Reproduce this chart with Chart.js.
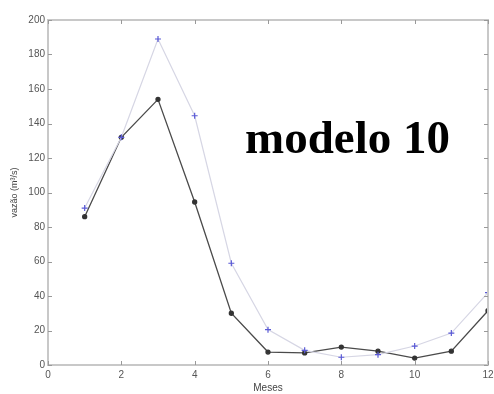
<!DOCTYPE html>
<html>
<head>
<meta charset="utf-8">
<script src="https://cdn.jsdelivr.net/npm/chart.js@4/dist/chart.umd.min.js"></script>
<style>
  html, body { margin: 0; padding: 0; background: #fff; }
  #wrap { width: 494px; height: 394px; }
</style>
</head>
<body>
<div id="wrap"><canvas id="chart" width="494" height="394"></canvas></div>
<script>
// Datos (meses 1..12, vazão em m³/s)
const MESES = [1, 2, 3, 4, 5, 6, 7, 8, 9, 10, 11, 12];
const SERIE_PRETA = [86, 132, 154, 94.5, 30, 7.5, 7, 10.4, 8, 4, 8, 31.5];
const SERIE_AZUL = [91, 132, 189, 144.5, 59, 20.5, 8.5, 4.5, 6, 11, 18.5, 42];
const X_TICKS = [0, 2, 4, 6, 8, 10, 12];
const Y_TICKS = [0, 20, 40, 60, 80, 100, 120, 140, 160, 180, 200];

const toPoints = (ys) => MESES.map((m, i) => ({ x: m, y: ys[i] }));

// moldura estilo matlab, ticks para dentro nos 4 lados + texto
const framePlugin = {
    id: 'frame',
    afterDraw(chart) {
        const ctx = chart.ctx;
        const a = chart.chartArea;
        const sx = chart.scales.x, sy = chart.scales.y;
        const len = 4;
        ctx.save();
        ctx.strokeStyle = '#c8c8c8';
        ctx.lineWidth = 2;
        ctx.beginPath();
        ctx.rect(a.left, a.top, a.right - a.left, a.bottom - a.top);
        ctx.stroke();

        ctx.strokeStyle = '#999999';
        ctx.lineWidth = 1;
        ctx.beginPath();
        X_TICKS.forEach(v => {
            const px = Math.round(sx.getPixelForValue(v)) + 0.5;
            ctx.moveTo(px, a.bottom); ctx.lineTo(px, a.bottom - len);
            ctx.moveTo(px, a.top); ctx.lineTo(px, a.top + len);
        });
        Y_TICKS.forEach(v => {
            const py = Math.round(sy.getPixelForValue(v)) + 0.5;
            ctx.moveTo(a.left, py); ctx.lineTo(a.left + len, py);
            ctx.moveTo(a.right, py); ctx.lineTo(a.right - len, py);
        });
        ctx.stroke();

        ctx.fillStyle = '#000';
        ctx.font = 'bold 47px "Liberation Serif"';
        ctx.textBaseline = 'alphabetic';
        ctx.textAlign = 'left';
        ctx.fillText('modelo 10', 245, 153);
        ctx.restore();
    }
};

new Chart(document.getElementById('chart'), {
    type: 'line',
    data: {
        datasets: [
            {
                label: 'azul',
                data: toPoints(SERIE_AZUL),
                borderColor: '#d6d6e4',
                borderWidth: 1.2,
                pointStyle: 'cross',
                pointRadius: 3,
                pointBorderColor: '#5a5ad6',
                pointBorderWidth: 1.2,
                tension: 0
            },
            {
                label: 'preta',
                data: toPoints(SERIE_PRETA),
                borderColor: '#4a4a4a',
                borderWidth: 1.3,
                pointStyle: 'circle',
                pointRadius: 2,
                pointBackgroundColor: '#333',
                pointBorderColor: '#333',
                tension: 0
            }
        ]
    },
    plugins: [framePlugin],
    options: {
        responsive: false,
        animation: false,
        layout: { padding: { top: 20, right: 6, left: 0, bottom: 0 } },
        plugins: { legend: { display: false }, tooltip: { enabled: false } },
        scales: {
            x: {
                type: 'linear',
                min: 0, max: 12,
                afterBuildTicks: (s) => { s.ticks = X_TICKS.map(v => ({ value: v })); },
                afterFit: (s) => { s.height = 29; s.paddingLeft = 0; s.paddingRight = 0; },
                grid: { display: false, drawTicks: false },
                border: { display: false },
                ticks: { color: '#555', font: { family: 'Liberation Sans', size: 10 }, padding: 4, maxRotation: 0 },
                title: { display: true, text: 'Meses', color: '#444', font: { family: 'Liberation Sans', size: 10 }, padding: { top: 0, bottom: 0 } }
            },
            y: {
                min: 0, max: 200,
                afterBuildTicks: (s) => { s.ticks = Y_TICKS.map(v => ({ value: v })); },
                afterFit: (s) => { s.width = 48; },
                grid: { display: false, drawTicks: false },
                border: { display: false },
                ticks: { color: '#555', font: { family: 'Liberation Sans', size: 10 }, padding: 3 },
                title: { display: true, text: 'vazão (m³/s)', color: '#444', font: { family: 'Liberation Sans', size: 9 }, padding: { top: 9, bottom: 0 } }
            }
        }
    }
});
</script>
</body>
</html>
